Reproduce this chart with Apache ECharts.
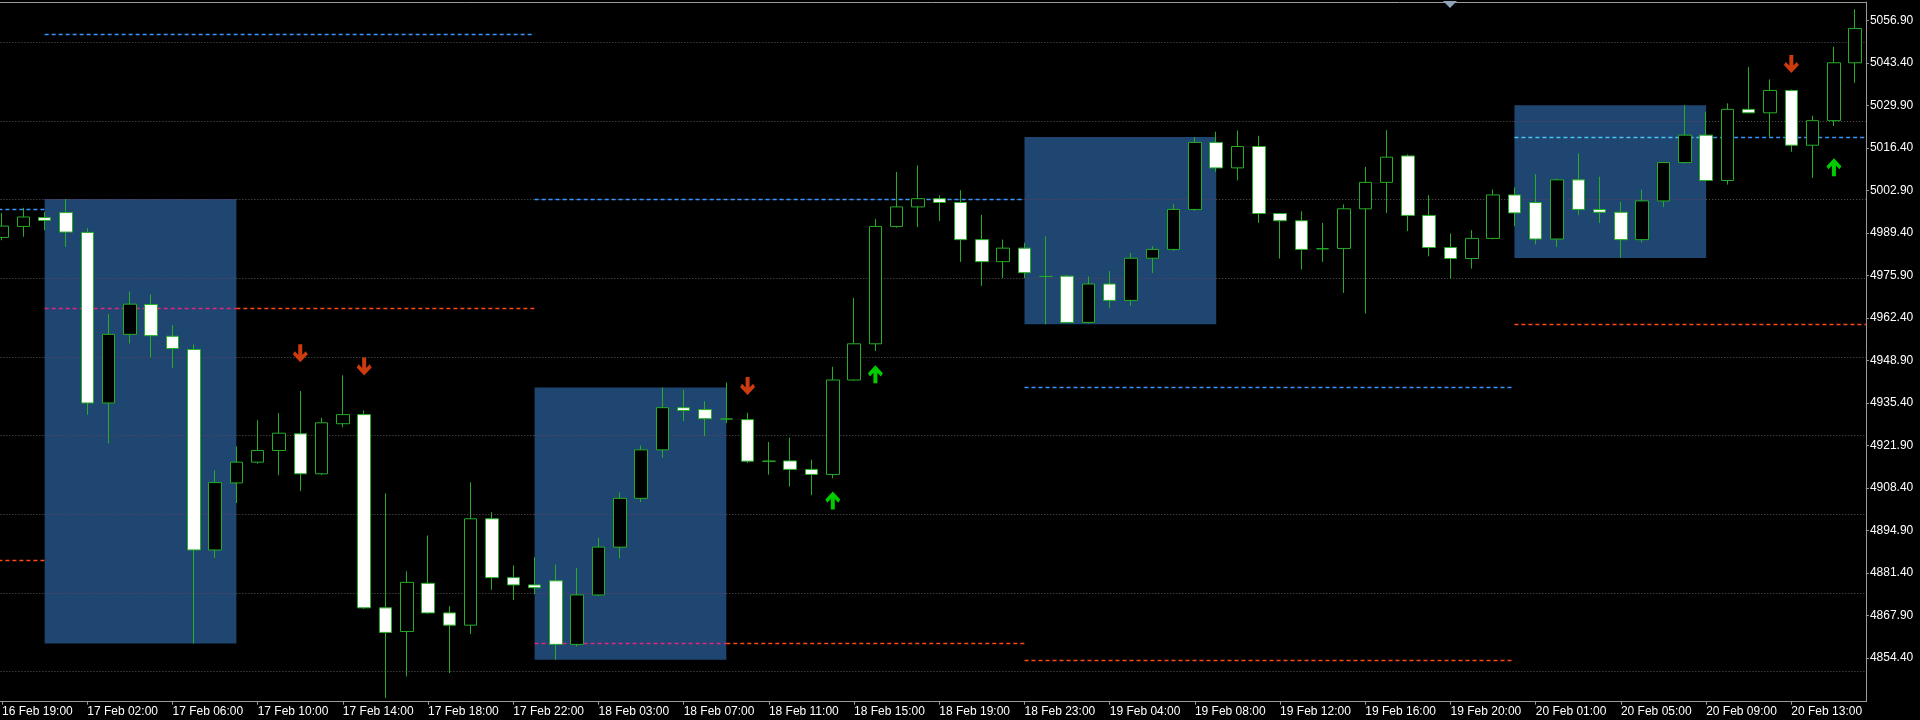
<!DOCTYPE html>
<html><head><meta charset="utf-8">
<script src="https://cdn.jsdelivr.net/npm/echarts@6/dist/echarts.min.js"></script>
<style>html,body{margin:0;padding:0;background:#000;}#c{width:1920px;height:720px;}</style>
</head><body><div id="c"></div>
<script>
// ---- data ----
const categories = [
"16 Feb 19:00","16 Feb 20:00","16 Feb 23:00","17 Feb 01:00","17 Feb 02:00","17 Feb 03:00","17 Feb 04:00","17 Feb 05:00","17 Feb 06:00","17 Feb 07:00",
"17 Feb 08:00","17 Feb 09:00","17 Feb 10:00","17 Feb 11:00","17 Feb 12:00","17 Feb 13:00","17 Feb 14:00","17 Feb 15:00","17 Feb 16:00","17 Feb 17:00",
"17 Feb 18:00","17 Feb 19:00","17 Feb 20:00","17 Feb 21:00","17 Feb 22:00","17 Feb 23:00","18 Feb 01:00","18 Feb 02:00","18 Feb 03:00","18 Feb 04:00",
"18 Feb 05:00","18 Feb 06:00","18 Feb 07:00","18 Feb 08:00","18 Feb 09:00","18 Feb 10:00","18 Feb 11:00","18 Feb 12:00","18 Feb 13:00","18 Feb 14:00",
"18 Feb 15:00","18 Feb 16:00","18 Feb 17:00","18 Feb 18:00","18 Feb 19:00","18 Feb 20:00","18 Feb 21:00","18 Feb 22:00","18 Feb 23:00","19 Feb 01:00",
"19 Feb 02:00","19 Feb 03:00","19 Feb 04:00","19 Feb 05:00","19 Feb 06:00","19 Feb 07:00","19 Feb 08:00","19 Feb 09:00","19 Feb 10:00","19 Feb 11:00",
"19 Feb 12:00","19 Feb 13:00","19 Feb 14:00","19 Feb 15:00","19 Feb 16:00","19 Feb 17:00","19 Feb 18:00","19 Feb 19:00","19 Feb 20:00","19 Feb 21:00",
"19 Feb 22:00","19 Feb 23:00","20 Feb 01:00","20 Feb 02:00","20 Feb 03:00","20 Feb 04:00","20 Feb 05:00","20 Feb 06:00","20 Feb 07:00","20 Feb 08:00",
"20 Feb 09:00","20 Feb 10:00","20 Feb 11:00","20 Feb 12:00","20 Feb 13:00","20 Feb 14:00","20 Feb 15:00","20 Feb 16:00"];

const openP = [4988.0,4991.5,4994.3,4995.9,4989.6,4935.4,4957.2,4966.7,4956.6,4952.4,
4888.7,4910.0,4916.6,4920.3,4925.6,4912.9,4928.8,4931.7,4870.3,4862.8,
4878.1,4868.7,4864.8,4898.6,4879.9,4877.6,4878.9,4858.7,4874.4,4889.6,
4905.1,4920.5,4933.9,4933.3,4930.3,4930.1,4916.9,4917.0,4914.3,4912.7,
4942.7,4954.2,4991.5,4997.7,5000.3,4999.1,4987.3,4980.3,4984.6,4975.6,
4975.7,4961.0,4973.2,4968.0,4981.4,4984.2,4996.9,5018.2,5010.1,5016.9,
4995.6,4993.3,4984.4,4984.5,4997.1,5005.5,5013.9,4995.0,4984.8,4981.3,
4987.7,5001.5,4999.1,4987.5,5006.3,4996.9,4996.0,4987.3,4999.6,5011.8,
5020.5,5006.1,5028.7,5027.6,5034.7,5017.3,5025.1,5043.5];
const highP = [4995.8,4997.4,4996.1,5000.2,4991.0,4963.6,4970.8,4969.9,4960.1,4954.0,
4914.0,4921.6,4929.9,4932.2,4939.2,4930.7,4944.2,4933.0,4906.7,4881.9,
4893.3,4870.8,4910.2,4900.7,4883.8,4886.4,4884.1,4883.0,4892.6,4907.0,
4921.9,4940.3,4939.6,4935.9,4941.9,4932.3,4923.0,4924.4,4917.4,4946.9,
4968.8,4993.9,5008.8,5010.9,5001.4,5003.0,4995.2,4987.3,4986.3,4988.3,
4976.1,4975.6,4977.3,4983.1,4985.2,4998.6,5019.9,5021.6,5022.0,5020.3,
4995.8,4996.3,4992.6,4998.5,5010.4,5022.1,5014.4,5001.4,4989.2,4990.3,
5003.2,5003.9,5008.1,5006.7,5014.7,5007.3,4999.3,5003.2,5012.0,5030.0,
5027.9,5030.6,5042.2,5038.2,5035.0,5026.7,5048.6,5060.5];
const lowP = [4987.1,4988.2,4990.3,4985.0,4931.7,4922.6,4954.3,4949.8,4946.5,4859.0,
4886.2,4903.6,4916.1,4912.4,4907.4,4912.5,4927.7,4870.0,4841.7,4848.5,
4868.4,4849.6,4862.0,4876.0,4872.8,4874.7,4853.8,4858.0,4874.1,4886.0,
4903.9,4918.0,4929.6,4924.8,4929.0,4916.3,4912.6,4908.9,4906.1,4911.5,
4942.4,4951.9,4991.1,4991.3,4993.2,4980.2,4972.6,4975.1,4975.1,4960.4,
4960.8,4960.7,4965.5,4966.2,4976.7,4983.7,4996.4,5008.8,5006.1,4992.6,
4981.3,4977.8,4980.2,4970.4,4963.8,4995.8,4990.0,4982.0,4974.9,4978.1,
4987.4,4991.6,4985.8,4985.0,4995.1,4992.6,4981.5,4986.4,4997.7,5011.5,
5005.8,5004.8,5027.4,5019.8,5015.2,5006.9,5023.4,5037.1];
const closeP = [4991.6,4994.5,4993.4,4989.7,4935.4,4957.2,4966.8,4956.8,4952.7,4888.7,
4910.1,4916.6,4920.3,4925.8,4912.9,4929.1,4931.7,4870.3,4862.5,4878.4,
4868.7,4864.8,4898.6,4879.9,4877.6,4876.7,4858.7,4874.4,4889.6,4905.1,
4920.5,4933.9,4933.0,4930.4,4930.3,4916.9,4916.9,4914.3,4912.7,4942.7,
4954.2,4991.5,4997.7,5000.3,4999.1,4987.3,4980.3,4984.6,4976.8,4975.6,
4961.0,4973.2,4968.0,4981.4,4984.2,4996.9,5018.2,5010.1,5016.9,4995.6,
4993.3,4984.2,4984.4,4997.1,5005.5,5013.5,4995.0,4984.8,4981.3,4987.7,
5001.5,4995.8,4987.5,5006.3,4996.9,4996.0,4987.3,4999.6,5011.8,5020.5,
5006.1,5028.7,5027.6,5034.7,5017.3,5025.1,5043.5,5054.4];

const yTickLabels = [4854.40,4867.90,4881.40,4894.90,4908.40,4921.90,4935.40,4948.90,4962.40,4975.90,4989.40,5002.90,5016.40,5029.90,5043.40,5056.90];
const gridLevels = [4850,4875,4900,4925,4950,4975,5000,5025,5050];

// session range boxes: first bar index of each box, number of bars in a box
const boxStarts = [2,25,48,71];
const boxBars = 9;
// level-line sessions (start bar index); levels of the first two sessions come from earlier boxes off-screen
const sessionStarts = [0,2,25,48,71];
const earlyLevelHigh = [4996.9,5052.6];
const earlyLevelLow = [4885.3,4965.5];

const downArrowIdx = [14,17,35,84];
const downArrowPrice = [4951.2,4947.0,4940.8,5043.1];
const upArrowIdx = [39,41,86];
const upArrowPrice = [4904.4,4944.5,5010.3];

// ---- layout / style ----
const yMin = 4840.48, yMax = 5062.81;
const N = categories.length;
const FONT = 'Liberation Sans';
const GREEN = '#25ad25';
const BLUE = '#3a94ff', ORANGE = '#ff4a12';
const BLUE_IN = '#44c4f0', ORANGE_IN = '#e0247e';
const GRID_C = '#595959', GRID_IN = '#6a3d62';
const BOX_C = '#1f4671';

const boxes = boxStarts.map(s => {
  let hi = -Infinity, lo = Infinity;
  for (let i = s; i < s + boxBars; i++) { hi = Math.max(hi, highP[i]); lo = Math.min(lo, lowP[i]); }
  return { x1: s, x2: s + boxBars, hi, lo };
});

function segs(x1, x2, y, color, inColor, dash, w) {
  const cuts = [];
  boxes.forEach(b => {
    if (y >= b.lo && y <= b.hi && b.x2 > x1 && b.x1 < x2) cuts.push([Math.max(b.x1, x1), Math.min(b.x2, x2)]);
  });
  cuts.sort((a, b) => a[0] - b[0]);
  const out = []; let cur = x1;
  cuts.forEach(c => { if (c[0] > cur) out.push([cur, c[0], color]); out.push([c[0], c[1], inColor]); cur = c[1]; });
  if (cur < x2) out.push([cur, x2, color]);
  return out.map(s => [{ coord: [s[0], y], lineStyle: { color: s[2], type: dash, width: w, opacity: 1 } }, { coord: [s[1], y] }]);
}

let gridSegs = [];
gridLevels.forEach(v => { gridSegs = gridSegs.concat(segs(-0.5, N - 0.5, v, GRID_C, GRID_IN, [1, 2], 1)); });

let levelSegs = [];
sessionStarts.forEach((s, k) => {
  const x1 = k === 0 ? -0.5 : s;
  const x2 = k === sessionStarts.length - 1 ? N - 0.5 : sessionStarts[k + 1];
  const hi = k < 2 ? earlyLevelHigh[k] : boxes[k - 2].hi;
  const lo = k < 2 ? earlyLevelLow[k] : boxes[k - 2].lo;
  levelSegs = levelSegs.concat(segs(x1, x2, hi, BLUE, BLUE_IN, [4, 3], 1.3));
  levelSegs = levelSegs.concat(segs(x1, x2, lo, ORANGE, ORANGE_IN, [4, 3], 1.3));
});

const candleData = openP.map((o, i) => [o, closeP[i], lowP[i], highP[i]]);
const ARROW = 'path://M5.5,0L9.5,0L9.5,10L13,6.5L15,9.5L7.5,17L0,9.5L2,6.5L5.5,10Z';

const chart = echarts.init(document.getElementById('c'), null, { renderer: 'canvas' });
chart.setOption({
  backgroundColor: '#000000',
  animation: false,
  grid: { left: -8.6, top: 2, width: 1874.5, height: 699.7, containLabel: false, outerBoundsMode: 'none' },
  xAxis: [
    { type: 'category', data: categories, boundaryGap: true, position: 'bottom',
      axisLine: { show: true, lineStyle: { color: '#9a9a9a', width: 1 } },
      axisTick: { show: true, interval: 3, alignWithLabel: true, length: 3, lineStyle: { color: '#9a9a9a' } },
      axisLabel: { interval: 3, align: 'left', margin: 4, color: '#ffffff', fontFamily: FONT, fontSize: 12, lineHeight: 12, hideOverlap: false },
      splitLine: { show: false } },
    { type: 'value', min: -0.5, max: N - 0.5, position: 'top',
      axisLine: { show: true, onZero: false, lineStyle: { color: '#9a9a9a', width: 1 } },
      axisTick: { show: false }, axisLabel: { show: false }, splitLine: { show: false } }
  ],
  yAxis: [
    { type: 'value', position: 'right', min: yMin, max: yMax, scale: true,
      axisLine: { show: true, onZero: false, lineStyle: { color: '#9a9a9a', width: 1 } },
      axisTick: { show: true, length: 3, customValues: yTickLabels, lineStyle: { color: '#9a9a9a' } },
      axisLabel: { show: true, customValues: yTickLabels, margin: 4, color: '#ffffff', fontFamily: FONT, fontSize: 12,
        formatter: v => Number(v).toFixed(2) },
      splitLine: { show: false } }
  ],
  graphic: [
    { type: 'polygon', shape: { points: [[1443, 1], [1457, 1], [1450, 8]] }, style: { fill: '#8ea2b8' }, z: 100 }
  ],
  series: [
    { name: 'boxes', type: 'line', xAxisIndex: 1, yAxisIndex: 0, data: [], silent: true,
      markArea: { silent: true, z: 1, itemStyle: { color: BOX_C, opacity: 1 },
        data: boxes.map(b => [{ coord: [b.x1, b.hi] }, { coord: [b.x2, b.lo] }]) } },
    { name: 'grid', type: 'line', xAxisIndex: 1, yAxisIndex: 0, data: [], silent: true,
      markLine: { silent: true, z: 2, symbol: ['none', 'none'], label: { show: false }, emphasis: { disabled: true },
        animation: false, data: gridSegs } },
    { name: 'levels', type: 'line', xAxisIndex: 1, yAxisIndex: 0, data: [], silent: true,
      markLine: { silent: true, z: 3, symbol: ['none', 'none'], label: { show: false }, emphasis: { disabled: true },
        animation: false, data: levelSegs } },
    { name: 'price', type: 'candlestick', xAxisIndex: 0, yAxisIndex: 0, z: 4, barWidth: 13,
      data: candleData,
      itemStyle: { color: '#000000', color0: '#ffffff', borderColor: GREEN, borderColor0: GREEN, borderColorDoji: GREEN, borderWidth: 1 } },
    { name: 'sell', type: 'scatter', xAxisIndex: 0, yAxisIndex: 0, z: 5, symbol: ARROW, symbolSize: [15, 18],
      itemStyle: { color: ORANGE }, data: downArrowIdx.map((i, k) => [i, downArrowPrice[k]]) },
    { name: 'buy', type: 'scatter', xAxisIndex: 0, yAxisIndex: 0, z: 5, symbol: ARROW, symbolSize: [15, 18], symbolRotate: 180,
      itemStyle: { color: '#00ff00' }, data: upArrowIdx.map((i, k) => [i, upArrowPrice[k]]) }
  ]
});
</script>
</body></html>
